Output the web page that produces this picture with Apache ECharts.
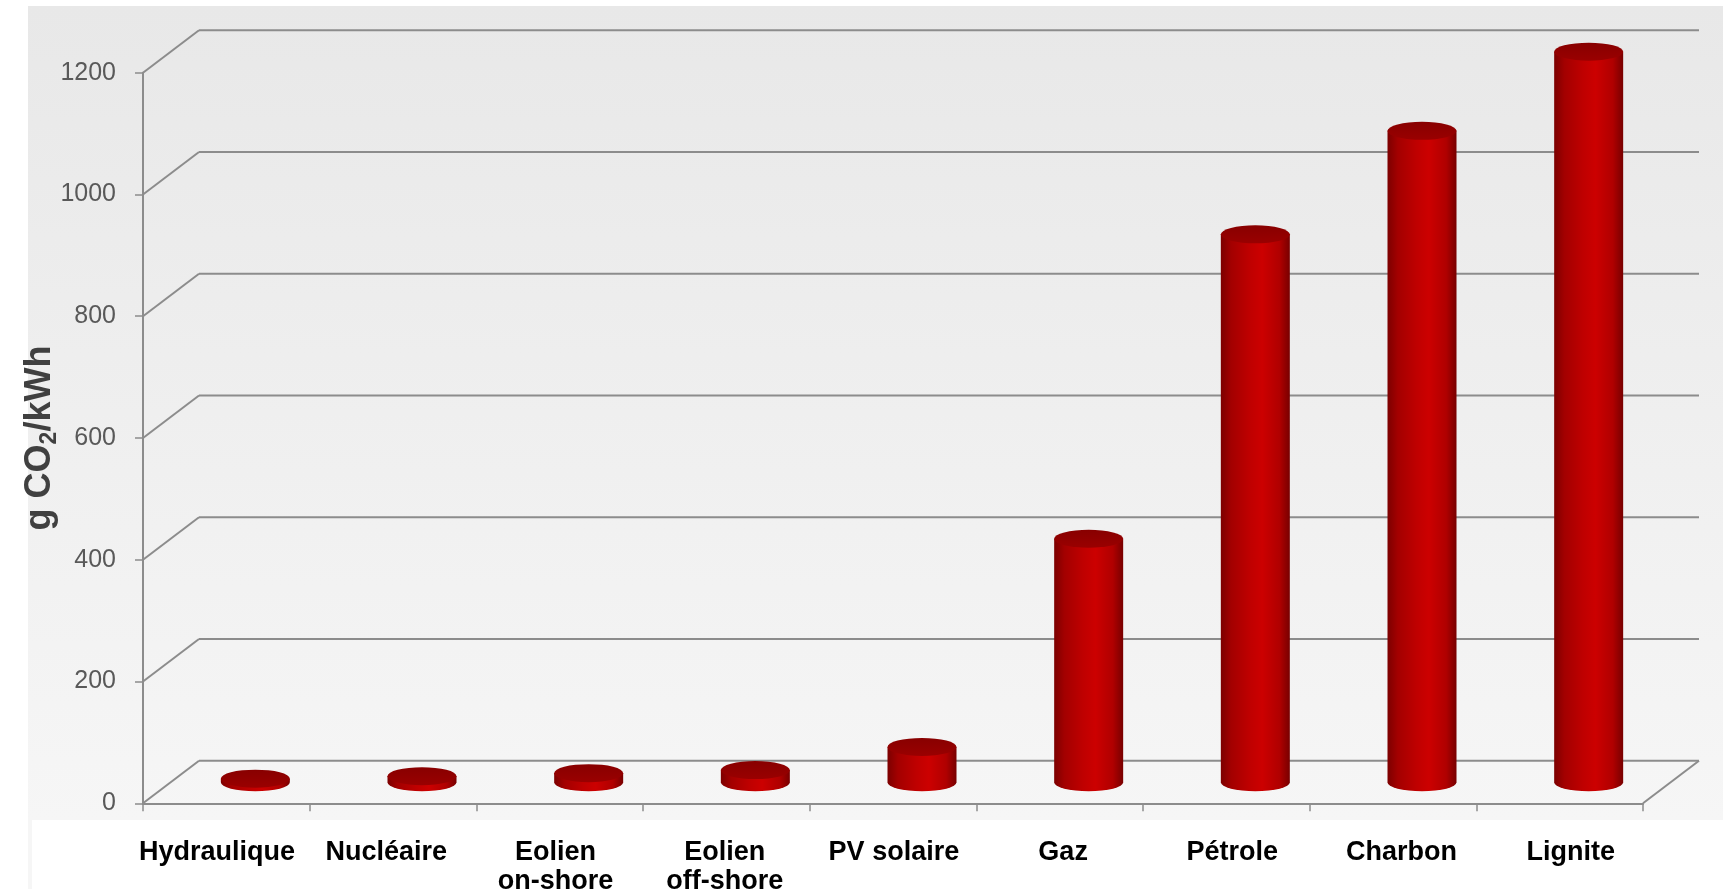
<!DOCTYPE html>
<html>
<head>
<meta charset="utf-8">
<script src="https://cdn.jsdelivr.net/npm/echarts@6/dist/echarts.min.js"></script>
<style>
  html, body { margin: 0; padding: 0; background: #ffffff; }
  #chart { width: 1723px; height: 892px; }
</style>
</head>
<body>
<div id="chart"></div>
<script>
// Life-cycle CO2 emissions per kWh by generation source
const categories = ['Hydraulique', 'Nucléaire', 'Eolien\non-shore', 'Eolien\noff-shore', 'PV solaire', 'Gaz', 'Pétrole', 'Charbon', 'Lignite'];
const emissions = [6, 10, 15, 20, 58, 400, 900, 1070, 1200];
const yMin = 0;
const yMax = 1200;
const yStep = 200;
const yTickValues = [0, 200, 400, 600, 800, 1000, 1200];

const FONT = '"Liberation Sans", Arial, Helvetica, sans-serif';
const GRID_COLOR = '#8c8c8c';
// depth of the 3D box (back wall offset) and bar position inside it
const DEPTH_X = 56;
const DEPTH_Y = -42.5;
const BAR_SHIFT_X = 29;
const BAR_SHIFT_Y = -21;

const chart = echarts.init(document.getElementById('chart'), null, { renderer: 'canvas' });

function renderFrame(params, api) {
  const cs = params.coordSys;
  const left = cs.x;
  const right = cs.x + cs.width;
  const style = { stroke: GRID_COLOR, lineWidth: 2, fill: null };
  const children = [];
  yTickValues.forEach(function (v) {
    const y = api.coord([0, v])[1];
    children.push({ type: 'line', shape: { x1: left, y1: y, x2: left + DEPTH_X, y2: y + DEPTH_Y }, style: style });
    children.push({ type: 'line', shape: { x1: left + DEPTH_X, y1: y + DEPTH_Y, x2: right + DEPTH_X, y2: y + DEPTH_Y }, style: style });
  });
  const y0 = api.coord([0, yMin])[1];
  children.push({ type: 'line', shape: { x1: right, y1: y0, x2: right + DEPTH_X, y2: y0 + DEPTH_Y }, style: style });
  return { type: 'group', children: children };
}

function renderCylinder(params, api) {
  const i = api.value(0);
  const v = api.value(1);
  const base = api.coord([i, 0]);
  const top = api.coord([i, v]);
  const rx = api.size([1, 0])[0] * 0.207;
  const ry = 9;
  const cx = base[0] + BAR_SHIFT_X;
  const by = base[1] + BAR_SHIFT_Y;
  const ty = top[1] + BAR_SHIFT_Y;
  const x1 = cx - rx, x2 = cx + rx;
  const body = 'M ' + x1 + ' ' + ty + ' L ' + x1 + ' ' + by +
    ' A ' + rx + ' ' + ry + ' 0 0 0 ' + x2 + ' ' + by +
    ' L ' + x2 + ' ' + ty + ' Z';
  const cap = 'M ' + x1 + ' ' + ty +
    ' A ' + rx + ' ' + ry + ' 0 0 0 ' + x2 + ' ' + ty +
    ' A ' + rx + ' ' + ry + ' 0 0 0 ' + x1 + ' ' + ty + ' Z';
  return {
    type: 'group',
    children: [
      {
        type: 'path',
        shape: { pathData: body },
        style: {
          fill: {
            type: 'linear', x: 0, y: 0, x2: 1, y2: 0,
            colorStops: [
              { offset: 0, color: '#7c0000' },
              { offset: 0.15, color: '#a30000' },
              { offset: 0.42, color: '#bf0000' },
              { offset: 0.6, color: '#cc0000' },
              { offset: 0.85, color: '#b00000' },
              { offset: 1, color: '#780000' }
            ]
          },
          stroke: null
        }
      },
      {
        type: 'path',
        shape: { pathData: cap },
        style: {
          fill: {
            type: 'linear', x: 0, y: 0, x2: 0, y2: 1,
            colorStops: [
              { offset: 0, color: '#880000' },
              { offset: 1, color: '#9a0000' }
            ]
          },
          stroke: null
        }
      }
    ]
  };
}

const option = {
  animation: false,
  backgroundColor: '#ffffff',
  graphic: [
    {
      type: 'rect', z: -100, silent: true,
      shape: { x: 28, y: 6, width: 1695, height: 814 },
      style: {
        fill: {
          type: 'linear', x: 0, y: 0, x2: 0, y2: 1,
          colorStops: [
            { offset: 0, color: '#e8e8e8' },
            { offset: 1, color: '#f6f6f6' }
          ]
        }
      }
    },
    {
      type: 'rect', z: -100, silent: true,
      shape: { x: 28, y: 820, width: 4, height: 69 },
      style: { fill: '#f6f6f6' }
    }
  ],
  grid: [
    { left: 143, top: 72.7, width: 1500, height: 730.6, outerBoundsMode: 'none' },
    { left: 132.4, top: 72.7, width: 1523, height: 730.6, outerBoundsMode: 'none' }
  ],
  xAxis: [
    {
      type: 'category', gridIndex: 0, data: categories,
      boundaryGap: true,
      axisLine: { show: true, lineStyle: { color: GRID_COLOR, width: 2 } },
      axisTick: { show: true, length: 8, lineStyle: { color: GRID_COLOR, width: 1.5 } },
      axisLabel: { show: false },
      splitLine: { show: false }
    },
    {
      type: 'category', gridIndex: 1, data: categories,
      axisLine: { show: false },
      axisTick: { show: false },
      axisLabel: {
        show: true, interval: 0, margin: 35,
        color: '#000000', fontFamily: FONT, fontSize: 27, fontWeight: 'bold', lineHeight: 29
      },
      splitLine: { show: false }
    }
  ],
  yAxis: [
    {
      type: 'value', gridIndex: 0, min: yMin, max: yMax, interval: yStep,
      axisLine: { show: true, lineStyle: { color: GRID_COLOR, width: 2 } },
      axisTick: { show: true, length: 8, lineStyle: { color: GRID_COLOR, width: 1.5 } },
      axisLabel: {
        color: '#595959', fontFamily: FONT, fontSize: 25, margin: 27,
        formatter: function (value) { return String(value); }
      },
      splitLine: { show: false },
      name: '{a|g CO}{s|2}{a|/kWh}',
      nameLocation: 'middle',
      nameGap: 82,
      nameMoveOverlap: false,
      nameTextStyle: {
        rich: {
          a: { fontFamily: FONT, fontSize: 36, fontWeight: 'bold', color: '#404040', lineHeight: 42 },
          s: { fontFamily: FONT, fontSize: 23, fontWeight: 'bold', color: '#404040', lineHeight: 23, verticalAlign: 'bottom' }
        }
      }
    },
    {
      type: 'value', gridIndex: 1, min: yMin, max: yMax, show: false
    }
  ],
  series: [
    {
      type: 'custom', name: 'frame', xAxisIndex: 0, yAxisIndex: 0,
      data: [[0, 0]], renderItem: renderFrame, silent: true, z: 1, clip: false
    },
    {
      type: 'custom', name: 'g CO2/kWh', xAxisIndex: 0, yAxisIndex: 0,
      data: emissions.map(function (v, i) { return [i, v]; }),
      renderItem: renderCylinder, z: 5, clip: false
    }
  ]
};

chart.setOption(option);
</script>
</body>
</html>
